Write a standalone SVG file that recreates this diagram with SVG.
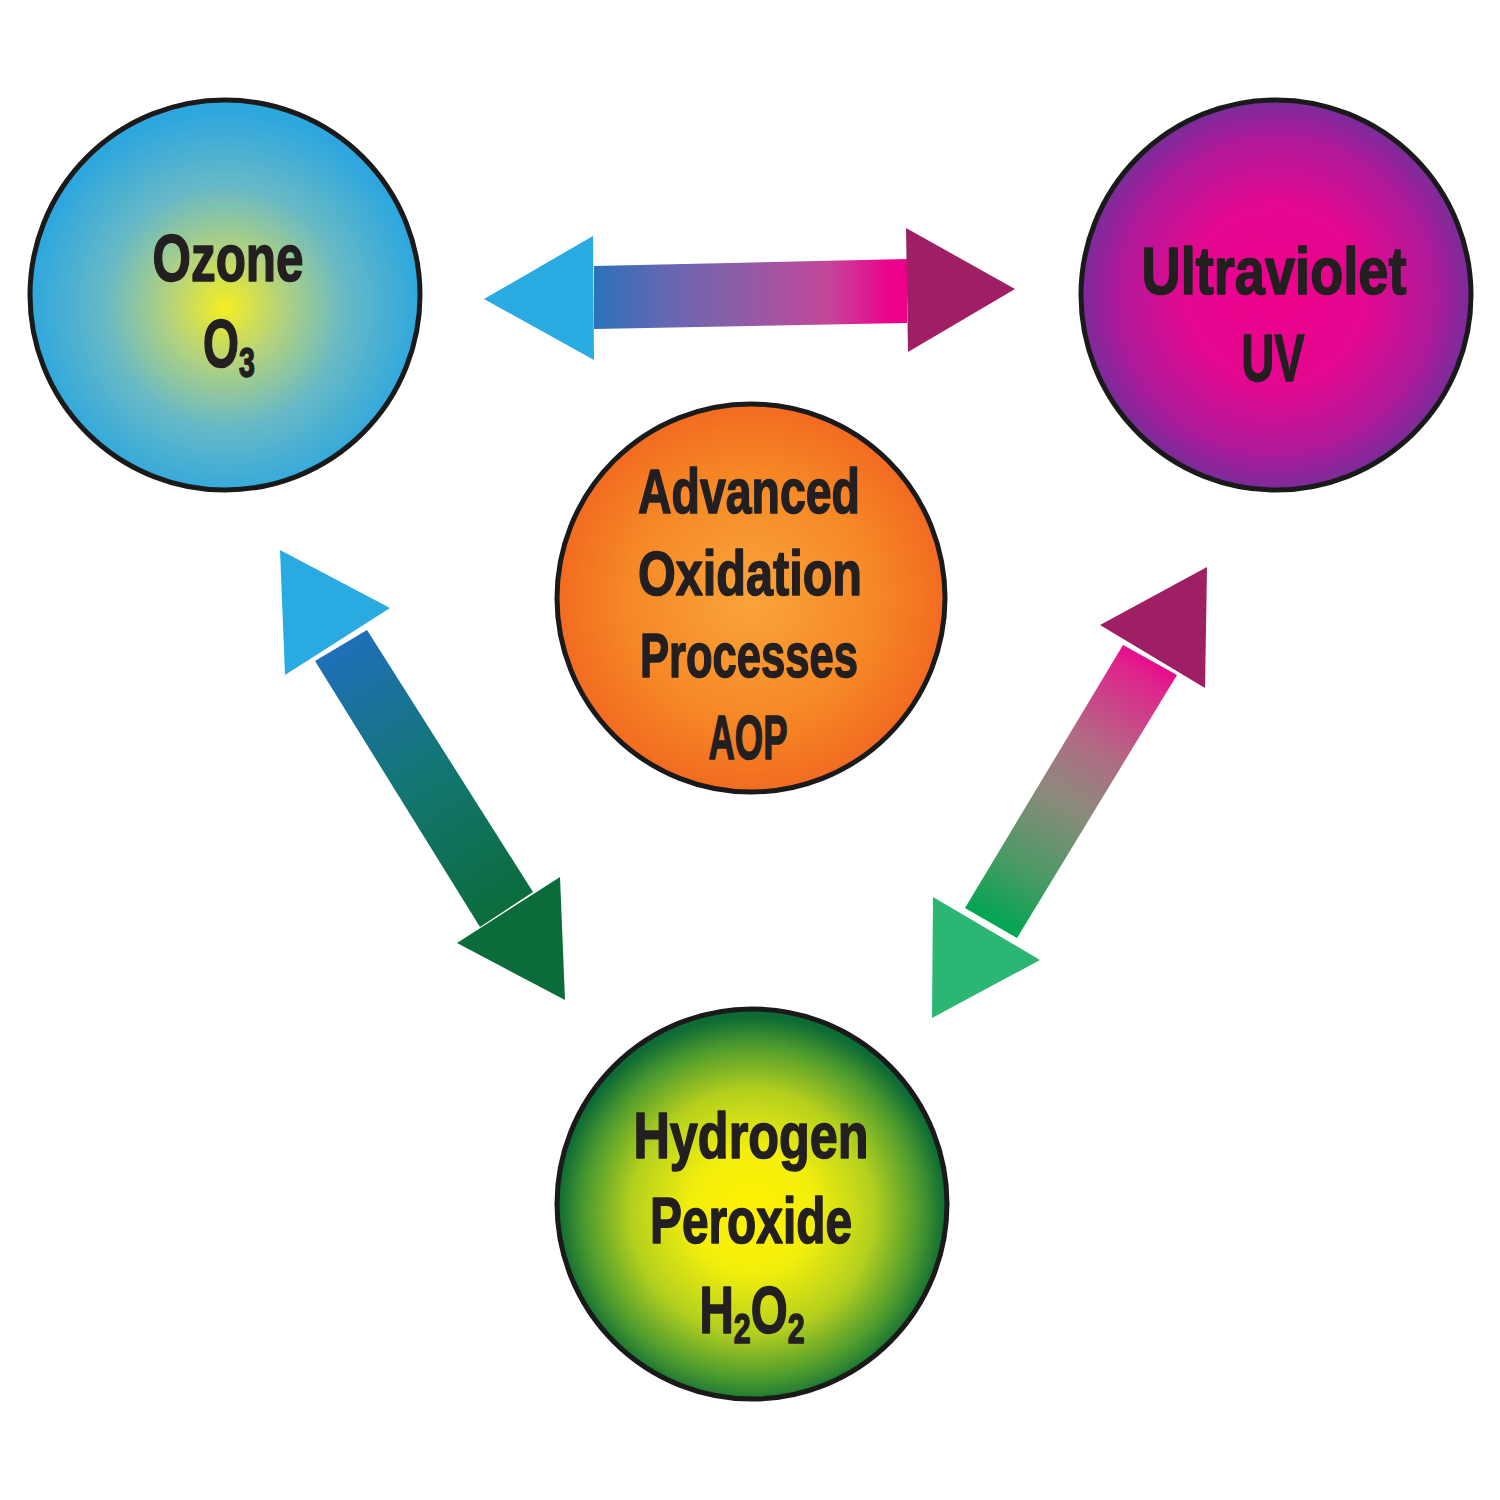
<svg xmlns="http://www.w3.org/2000/svg" width="1500" height="1500" viewBox="0 0 1500 1500">
<defs>
<style>
.c{stroke:#1a1a1a;stroke-width:5}
.t{font-family:"Liberation Sans",Arial,sans-serif;font-weight:bold;fill:#231f20;stroke:#231f20;stroke-width:1.6;stroke-linejoin:round;text-anchor:middle}
</style>
<radialGradient id="gOz" cx="0.5" cy="0.53" r="0.5">
<stop offset="0" stop-color="#f4ee22"/>
<stop offset="0.28" stop-color="#b6d37a"/>
<stop offset="0.62" stop-color="#67b9c6"/>
<stop offset="1" stop-color="#2ea7de"/>
</radialGradient>
<radialGradient id="gUv" cx="0.5" cy="0.5" r="0.5">
<stop offset="0" stop-color="#ec008c"/>
<stop offset="0.45" stop-color="#e5078f"/>
<stop offset="0.8" stop-color="#b0199a"/>
<stop offset="1" stop-color="#7a2c99"/>
</radialGradient>
<radialGradient id="gAop" cx="0.5" cy="0.5" r="0.5">
<stop offset="0" stop-color="#f9a43a"/>
<stop offset="0.6" stop-color="#f68a26"/>
<stop offset="1" stop-color="#f26b21"/>
</radialGradient>
<radialGradient id="gH" cx="0.5" cy="0.52" r="0.5">
<stop offset="0" stop-color="#fff200"/>
<stop offset="0.32" stop-color="#f2ee0c"/>
<stop offset="0.62" stop-color="#b4d01e"/>
<stop offset="0.86" stop-color="#4c9a2e"/>
<stop offset="1" stop-color="#0d6b34"/>
</radialGradient>
<linearGradient id="gTop" gradientUnits="userSpaceOnUse" x1="594" y1="0" x2="907" y2="0">
<stop offset="0" stop-color="#2b72b8"/>
<stop offset="0.25" stop-color="#6a66b0"/>
<stop offset="0.45" stop-color="#8b5ea8"/>
<stop offset="0.75" stop-color="#c4469a"/>
<stop offset="0.95" stop-color="#ec008c"/>
<stop offset="1" stop-color="#ec008c"/>
</linearGradient>
<linearGradient id="gLeft" gradientUnits="userSpaceOnUse" x1="341" y1="646" x2="506" y2="910">
<stop offset="0" stop-color="#1f6fb8"/>
<stop offset="0.5" stop-color="#137672"/>
<stop offset="1" stop-color="#0b6c3c"/>
</linearGradient>
<linearGradient id="gRight" gradientUnits="userSpaceOnUse" x1="1150" y1="650" x2="991" y2="923">
<stop offset="0" stop-color="#ec008c"/>
<stop offset="0.08" stop-color="#e0228c"/>
<stop offset="0.35" stop-color="#b26a84"/>
<stop offset="0.55" stop-color="#8c8a7c"/>
<stop offset="0.8" stop-color="#4a9a64"/>
<stop offset="1" stop-color="#00a651"/>
</linearGradient>
</defs>
<rect width="1500" height="1500" fill="#ffffff"/>

<g id="connectors">
<g id="arrow-ozone-uv">
<polygon points="594,266 907,259 907,323 594,329" fill="url(#gTop)"/>
<polygon points="484,299 593,236 594,360" fill="#29abe2"/>
<polygon points="906,228 1015,289 908,352" fill="#9e1f63"/>
</g>
<g id="arrow-ozone-h2o2">
<polygon points="315,661 367,630 533,892 480,927" fill="url(#gLeft)"/>
<polygon points="280,550 390,608 285,675" fill="#29abe2"/>
<polygon points="457,943 560,877 565,1000" fill="#0b6b3a"/>
</g>
<g id="arrow-uv-h2o2">
<polygon points="1123,645 1177,675 1017,938 965,908" fill="url(#gRight)"/>
<polygon points="1100,625 1207,567 1205,688" fill="#9e1f63"/>
<polygon points="933,897 1040,960 932,1018" fill="#2bb673"/>
</g>
</g>

<g id="node-ozone">
<circle class="c" cx="225" cy="295" r="195" fill="url(#gOz)"/>
<text class="t" x="228" y="281" font-size="66" textLength="151" lengthAdjust="spacingAndGlyphs">Ozone</text>
<text class="t" transform="translate(229,367) scale(0.68,1)" font-size="68">O<tspan font-size="42" dy="10">3</tspan></text>
</g>

<g id="node-uv">
<circle class="c" cx="1276" cy="295" r="195" fill="url(#gUv)"/>
<text class="t" x="1274" y="294" font-size="67" textLength="265" lengthAdjust="spacingAndGlyphs">Ultraviolet</text>
<text class="t" x="1273" y="381" font-size="67" textLength="63" lengthAdjust="spacingAndGlyphs">UV</text>
</g>

<g id="node-aop">
<circle class="c" cx="751" cy="598" r="194" fill="url(#gAop)"/>
<text class="t" x="749" y="513" font-size="63" textLength="222" lengthAdjust="spacingAndGlyphs">Advanced</text>
<text class="t" x="750" y="595" font-size="63" textLength="224" lengthAdjust="spacingAndGlyphs">Oxidation</text>
<text class="t" x="749" y="677" font-size="63" textLength="218" lengthAdjust="spacingAndGlyphs">Processes</text>
<text class="t" x="748" y="759" font-size="63" textLength="79" lengthAdjust="spacingAndGlyphs">AOP</text>
</g>

<g id="node-h2o2">
<circle class="c" cx="752" cy="1204" r="195" fill="url(#gH)"/>
<text class="t" x="751" y="1158" font-size="64" textLength="235" lengthAdjust="spacingAndGlyphs">Hydrogen</text>
<text class="t" x="751" y="1243" font-size="64" textLength="202" lengthAdjust="spacingAndGlyphs">Peroxide</text>
<text class="t" transform="translate(752,1333) scale(0.72,1)" font-size="66">H<tspan font-size="42" dy="10">2</tspan><tspan dy="-10">O</tspan><tspan font-size="42" dy="10">2</tspan></text>
</g>
</svg>
